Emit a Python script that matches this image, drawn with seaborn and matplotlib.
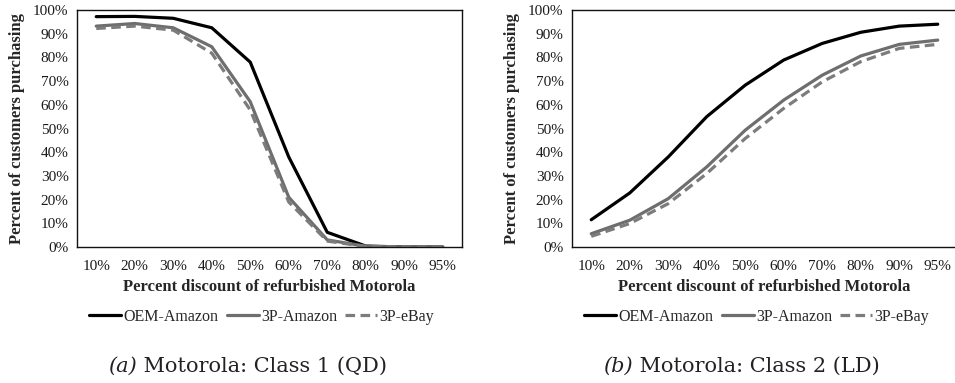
import numpy as np
import pandas as pd
import matplotlib
matplotlib.use("Agg")
import matplotlib.pyplot as plt
import seaborn as sns
from matplotlib.ticker import PercentFormatter

sns.set_theme(style="white")
plt.rcParams['font.family'] = ['Liberation Serif', 'DejaVu Serif']

categories = ["10%", "20%", "30%", "40%", "50%", "60%", "70%", "80%", "90%", "95%"]
series_names = ["OEM-Amazon", "3P-Amazon", "3P-eBay"]

# Class 1 (QD)
c1_oem = [97.2, 97.3, 96.5, 92.5, 78.0, 38.0, 6.2, 0.4, 0.0, 0.0]
c1_3pa = [93.2, 94.3, 92.5, 84.5, 61.3, 21.0, 3.0, 0.3, 0.0, 0.0]
c1_3pe = [92.2, 93.2, 91.5, 81.8, 57.8, 19.0, 2.5, 0.2, 0.0, 0.0]

# Class 2 (LD)
c2_oem = [11.5, 22.8, 38.0, 55.0, 68.3, 78.9, 85.9, 90.6, 93.2, 94.0]
c2_3pa = [5.6, 11.3, 20.4, 33.8, 49.3, 62.0, 72.5, 80.6, 85.5, 87.3]
c2_3pe = [4.5, 9.9, 18.3, 31.0, 45.8, 58.5, 69.7, 78.2, 83.8, 85.5]

caption_tags = ["(a)", "(b)"]
caption_texts = [" Motorola: Class 1 (QD)", " Motorola: Class 2 (LD)"]
xlabel = "Percent discount of refurbished Motorola"
ylabel = "Percent of customers purchasing"

styles = {
    "OEM-Amazon": dict(color="#000000", linestyle="-"),
    "3P-Amazon": dict(color="#6e6e6e", linestyle="-"),
    "3P-eBay": dict(color="#7c7c7c", linestyle=(0, (3.0, 1.7))),
}

def make_df(oem, pa, pe):
    rows = []
    for name, vals in zip(series_names, [oem, pa, pe]):
        for i, (c, v) in enumerate(zip(categories, vals)):
            rows.append({"pos": i, "cat": c, "series": name, "value": v / 100.0})
    return pd.DataFrame(rows)

dfs = [make_df(c1_oem, c1_3pa, c1_3pe), make_df(c2_oem, c2_3pa, c2_3pe)]

W, H = 955, 383
fig = plt.figure(figsize=(W / 100, H / 100), dpi=100)
ax_w = 385 / W
ax_h = (247 - 10) / H
ax_bottom = 1 - 247 / H
lefts = [77 / W, 572 / W]
cap_x = [108 / W, 603 / W]
cap_y = 1 - 366 / H
cap_font = ['DejaVu Serif']

renderer = fig.canvas.get_renderer()

for k, (df, left) in enumerate(zip(dfs, lefts)):
    ax = fig.add_axes([left, ax_bottom, ax_w, ax_h])
    for name in series_names:
        sub = df[df["series"] == name]
        sns.lineplot(data=sub, x="pos", y="value", ax=ax, label=name,
                     linewidth=2.3, sort=True, **styles[name])
    ax.set_xlim(-0.5, len(categories) - 0.5)
    ax.set_ylim(0, 1.0)
    ax.set_yticks(np.arange(0, 1.01, 0.1))
    ax.yaxis.set_major_formatter(PercentFormatter(1.0, decimals=0))
    ax.set_xticks(range(len(categories)))
    ax.set_xticklabels(categories)
    ax.tick_params(axis="both", length=0, labelsize=11, colors="#1a1a1a")
    ax.tick_params(axis="x", pad=9)
    ax.tick_params(axis="y", pad=6)
    for s in ax.spines.values():
        s.set_visible(True)
        s.set_color("#111111")
        s.set_linewidth(1.0)
    if k == 1:
        ax.spines["right"].set_visible(False)
    ax.set_xlabel(xlabel, fontsize=12, fontweight="bold", labelpad=5)
    ax.set_ylabel(ylabel, fontsize=12, fontweight="bold", labelpad=6)
    ax.grid(False)
    ax.legend(loc="center", bbox_to_anchor=(0.48, -0.295), ncol=3, frameon=False,
              fontsize=11.5, handlelength=2.0, handletextpad=0.15, columnspacing=0.5)
    # caption
    ta = fig.text(cap_x[k], cap_y, caption_tags[k], ha="left", va="center",
                  fontsize=15, style="italic", color="#222222", family=cap_font)
    bba = ta.get_window_extent(renderer=renderer)
    fig.text(bba.x1 / W, cap_y, caption_texts[k], ha="left", va="center",
             fontsize=15, color="#222222", family=cap_font)

fig.savefig("out.png", dpi=100, facecolor="white")
